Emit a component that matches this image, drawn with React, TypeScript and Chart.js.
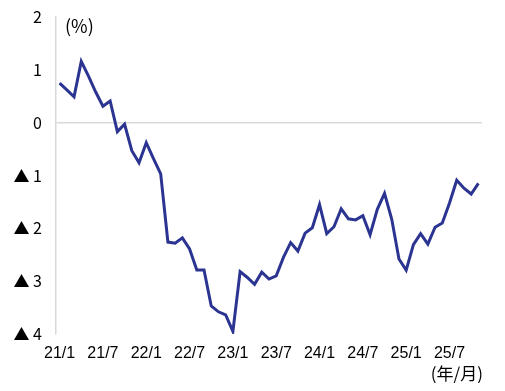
import React, { useEffect, useRef } from "react";
import { Chart, registerables } from "chart.js";

Chart.register(...registerables);

const months: string[] = [
  "21/1", "21/2", "21/3", "21/4", "21/5", "21/6", "21/7", "21/8", "21/9", "21/10", "21/11", "21/12",
  "22/1", "22/2", "22/3", "22/4", "22/5", "22/6", "22/7", "22/8", "22/9", "22/10", "22/11", "22/12",
  "23/1", "23/2", "23/3", "23/4", "23/5", "23/6", "23/7", "23/8", "23/9", "23/10", "23/11", "23/12",
  "24/1", "24/2", "24/3", "24/4", "24/5", "24/6", "24/7", "24/8", "24/9", "24/10", "24/11", "24/12",
  "25/1", "25/2", "25/3", "25/4", "25/5", "25/6", "25/7", "25/8", "25/9", "25/10", "25/11",
];

const shownTicks: string[] = ["21/1", "21/7", "22/1", "22/7", "23/1", "23/7", "24/1", "24/7", "25/1", "25/7"];

const values: number[] = [
  0.75, 0.62, 0.49, 1.16, 0.88, 0.58, 0.31, 0.41, -0.17, -0.03, -0.53, -0.76,
  -0.38, -0.68, -0.97, -2.26, -2.28, -2.18, -2.39, -2.79, -2.79, -3.47, -3.58, -3.64,
  -3.95, -2.82, -2.93, -3.06, -2.83, -2.96, -2.9, -2.55, -2.27, -2.43, -2.09, -1.99,
  -1.55, -2.1, -1.97, -1.63, -1.82, -1.84, -1.76, -2.12, -1.64, -1.34, -1.83, -2.58,
  -2.79, -2.31, -2.1, -2.3, -1.98, -1.9, -1.52, -1.09, -1.24, -1.35, -1.15,
];

const yUnit = "(%)";
const xUnit = "(年/月)";

export default function App() {
  const ref = useRef<HTMLCanvasElement | null>(null);

  useEffect(() => {
    if (!ref.current) return;
    const unitPlugin = {
      id: "units",
      afterDraw(chart: any) {
        const ctx = chart.ctx;
        const area = chart.chartArea;
        ctx.save();
        ctx.fillStyle = "#000";
        ctx.textBaseline = "middle";
        ctx.textAlign = "left";
        ctx.font = '18px "Noto Sans CJK JP", "Liberation Sans", sans-serif';
        ctx.fillText(yUnit, area.left + 9, area.top + 9);
        ctx.textAlign = "right";
        ctx.font = '17px "Noto Sans CJK JP", "Liberation Sans", sans-serif';
        ctx.fillText(xUnit, area.right + 1, chart.height - 9);
        ctx.restore();
      },
    };

    const chart = new Chart(ref.current, {
      type: "line",
      data: {
        labels: months,
        datasets: [
          {
            data: values,
            borderColor: "#2b3591",
            borderWidth: 3,
            pointRadius: 0,
            tension: 0,
            fill: false,
          },
        ],
      },
      options: {
        animation: false,
        responsive: true,
        maintainAspectRatio: false,
        layout: { padding: { top: 9, right: 15, left: 0, bottom: 0 } },
        plugins: { legend: { display: false }, tooltip: { enabled: false } },
        scales: {
          x: {
            type: "category",
            offset: true,
            grid: { display: false, drawTicks: false },
            border: { display: false },
            afterFit(scale: any) {
              scale.height = 49;
            },
            ticks: {
              autoSkip: false,
              maxRotation: 0,
              minRotation: 0,
              padding: 10,
              color: "#000",
              font: { family: '"Liberation Sans", Arial, sans-serif', size: 16 },
              callback(_v: any, idx: number) {
                const lab = months[idx];
                return shownTicks.includes(lab) ? lab : "";
              },
            },
          },
          y: {
            min: -4,
            max: 2,
            afterFit(scale: any) {
              scale.width = 48;
              scale.paddingTop = 9;
              scale.paddingBottom = 9;
            },
            grid: {
              drawTicks: false,
              color: (ctx: any) => (ctx.tick && ctx.tick.value === 0 ? "#d9d9d9" : "rgba(0,0,0,0)"),
              lineWidth: 1.5,
            },
            border: { display: true, color: "#d9d9d9", width: 1.5 },
            ticks: {
              stepSize: 1,
              padding: 14,
              color: "#000",
              font: { family: '"Noto Sans CJK JP", "Liberation Sans", sans-serif', size: 16 },
              callback(v: any) {
                const n = Number(v);
                return n < 0 ? "▲ " + -n : String(n);
              },
            },
          },
        },
      },
      plugins: [unitPlugin],
    });
    return () => chart.destroy();
  }, []);

  return (
    <div style={{ width: 489, height: 375, position: "relative" }}>
      <canvas ref={ref} />
    </div>
  );
}
